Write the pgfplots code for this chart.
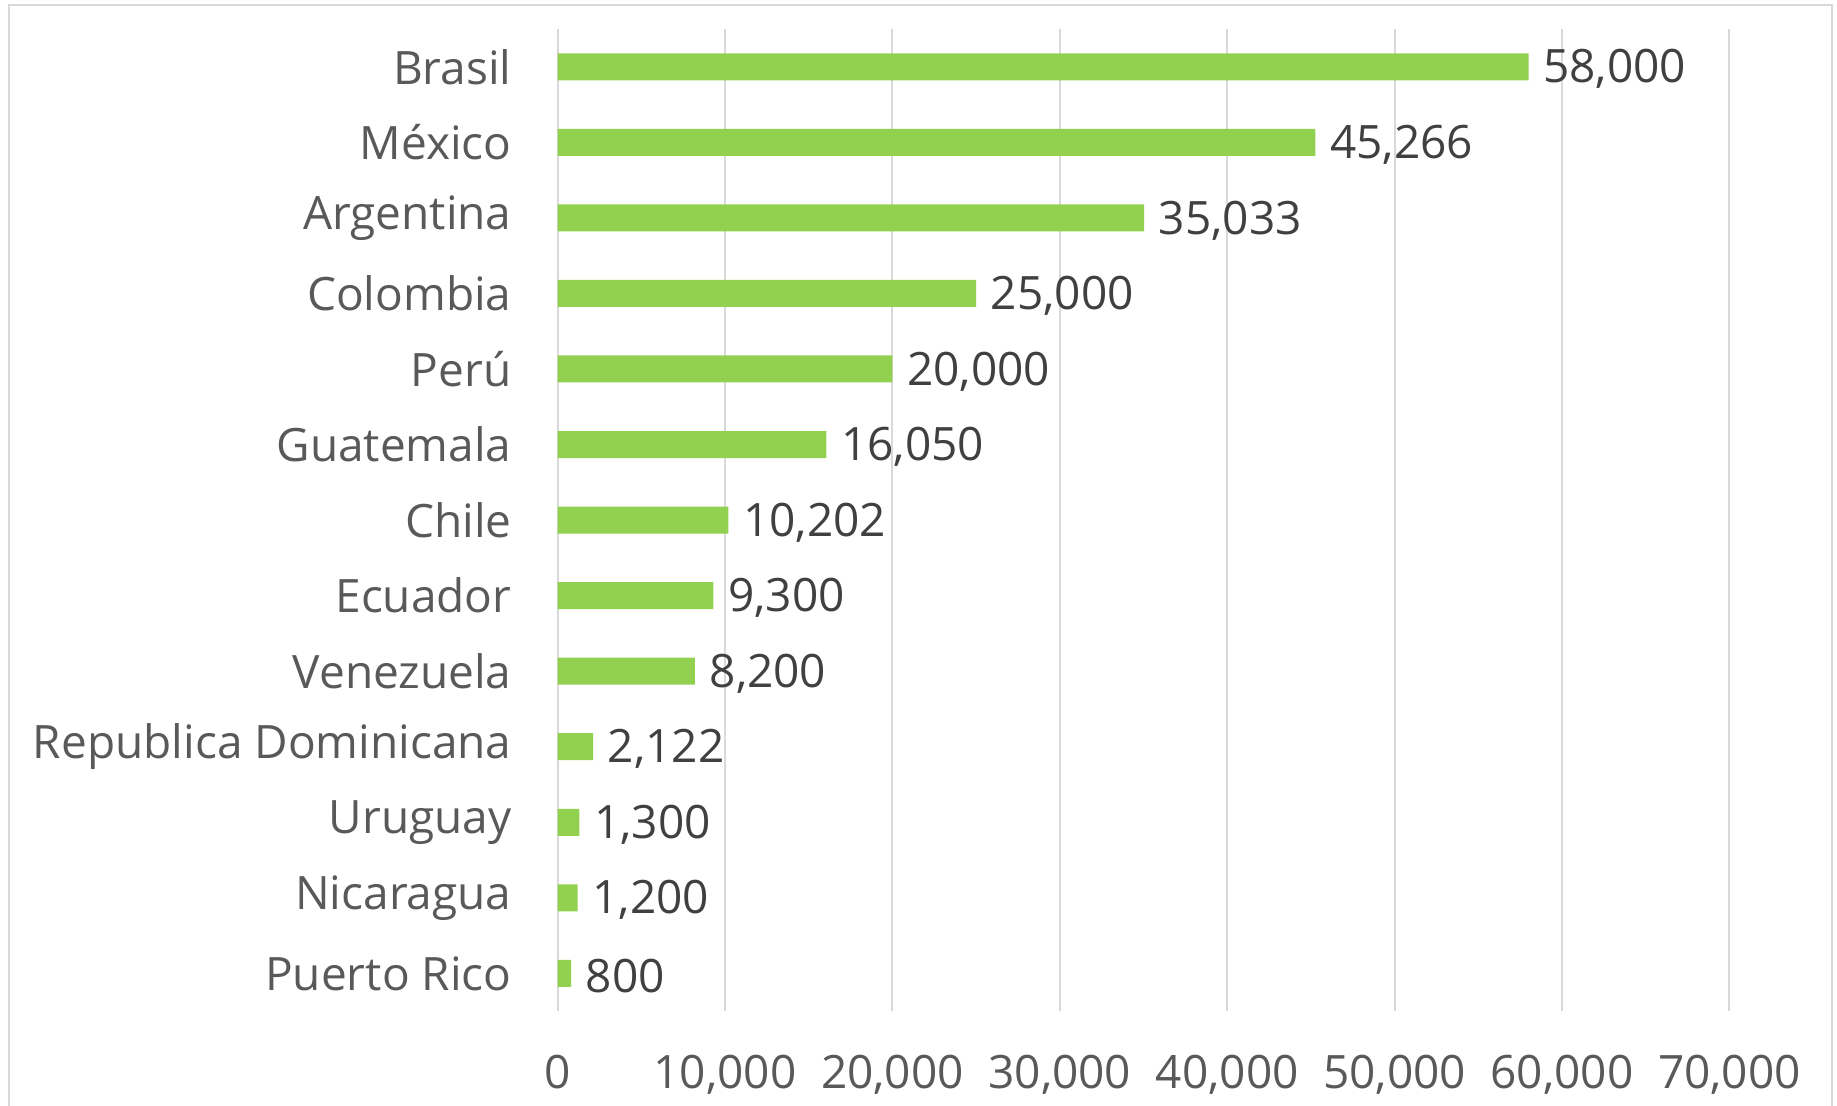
\documentclass[border=0pt]{standalone}
\usepackage{fontspec}
\setmainfont{Open Sans}
\usepackage{pgfplots}
\pgfplotsset{compat=1.18}
\definecolor{barGreen}{HTML}{92D050}
\definecolor{gridGray}{HTML}{D9D9D9}
\definecolor{labGray}{HTML}{595959}
\definecolor{valGray}{HTML}{404040}
\begin{document}
\begin{tikzpicture}
  % page size: the axis sits with its south west corner at (0,0)
  \useasboundingbox (-139.4pt,-23.5pt) rectangle (319.8pt,252.75pt);
  \draw[gridGray, line width=0.6pt]
    (-137.15pt,-30pt) -- (-137.15pt,251.5pt) -- (318.55pt,251.5pt) -- (318.55pt,-30pt);
  \begin{axis}[
      xbar,
      scale only axis,
      at={(0,0)}, anchor=south west,
      width=292.9pt, height=245.5pt,
      bar width=6.75pt,
      y dir=reverse,
      ymin=-0.5, ymax=12.5,
      xmin=0, xmax=70000,
      xtick={0,10000,...,70000},
      ytick={0,...,12},
      yticklabels={Brasil, México, Argentina, Colombia, Perú, Guatemala, Chile,
        Ecuador, Venezuela, Republica Dominicana, Uruguay, Nicaragua, Puerto Rico},
      scaled x ticks=false,
      xticklabel style={font=\fontsize{11.5}{13}\selectfont, text=labGray, yshift=-7.5pt,
        /pgf/number format/assume math mode=true,
        /pgf/number format/1000 sep={,}},
      yticklabel style={font=\fontsize{11.5}{13}\selectfont, text=labGray, xshift=-8pt},
      major tick length=0pt,
      axis line style={draw=none},
      xmajorgrids, major grid style={gridGray, line width=0.5pt},
      nodes near coords={\pgfmathprintnumber[assume math mode=true,1000 sep={,}]{\pgfplotspointmeta}},
      point meta=x,
      every node near coord/.append style={font=\fontsize{11.5}{13}\selectfont,
        text=valGray, anchor=west, inner sep=0pt, xshift=3.5pt, yshift=-0.6pt},
    ]
    \addplot[fill=barGreen, draw=none] coordinates {
      (58000,0) (45266,1) (35033,2) (25000,3) (20000,4) (16050,5) (10202,6)
      (9300,7) (8200,8) (2122,9) (1300,10) (1200,11) (800,12)};
  \end{axis}
\end{tikzpicture}
\end{document}
